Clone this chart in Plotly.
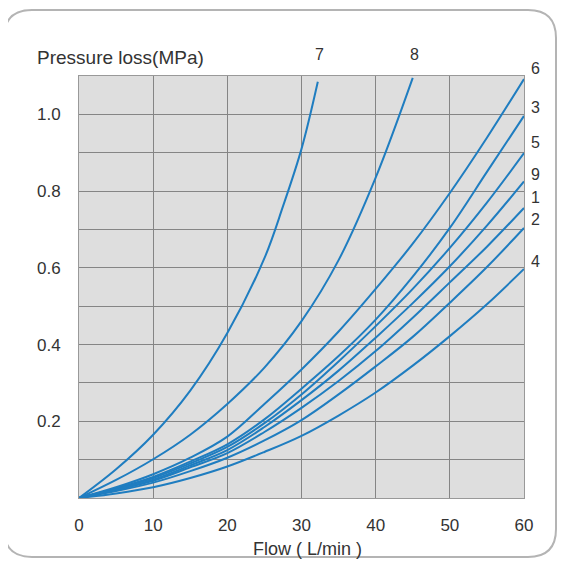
import plotly.graph_objects as go

# ---- data ----
flow = [0, 5, 10, 15, 20, 25, 30, 35, 40, 45, 50, 55, 60]
curve_1 = [0, 0.021, 0.045, 0.080, 0.117, 0.172, 0.235, 0.305, 0.383, 0.470, 0.562, 0.655, 0.756]
curve_2 = [0, 0.018, 0.040, 0.070, 0.105, 0.150, 0.203, 0.270, 0.343, 0.420, 0.509, 0.602, 0.704]
curve_3 = [0, 0.025, 0.055, 0.095, 0.140, 0.205, 0.285, 0.370, 0.465, 0.577, 0.704, 0.850, 0.996]
curve_4 = [0, 0.012, 0.028, 0.052, 0.082, 0.120, 0.162, 0.215, 0.275, 0.345, 0.422, 0.505, 0.597]
curve_5 = [0, 0.024, 0.052, 0.090, 0.133, 0.195, 0.270, 0.356, 0.448, 0.545, 0.652, 0.770, 0.899]
curve_6 = [0, 0.028, 0.062, 0.105, 0.160, 0.245, 0.335, 0.434, 0.545, 0.663, 0.795, 0.939, 1.092]
curve_9 = [0, 0.022, 0.048, 0.085, 0.125, 0.185, 0.255, 0.332, 0.418, 0.508, 0.604, 0.710, 0.825]

flow_7 = [0, 5, 10, 15, 20, 25, 27.5, 30, 32.2]
curve_7 = [0, 0.075, 0.165, 0.280, 0.430, 0.625, 0.760, 0.910, 1.085]

flow_8 = [0, 5, 10, 15, 20, 25, 30, 35, 40, 45]
curve_8 = [0, 0.047, 0.101, 0.165, 0.245, 0.340, 0.461, 0.620, 0.835, 1.095]

x_ticks = [0, 10, 20, 30, 40, 50, 60]
y_grid = [0, 0.1, 0.2, 0.3, 0.4, 0.5, 0.6, 0.7, 0.8, 0.9, 1.0, 1.1]
y_labels = ["", "", "0.2", "", "0.4", "", "0.6", "", "0.8", "", "1.0", ""]

series = [
    ("1", flow, curve_1), ("2", flow, curve_2), ("3", flow, curve_3),
    ("4", flow, curve_4), ("5", flow, curve_5), ("6", flow, curve_6),
    ("7", flow_7, curve_7), ("8", flow_8, curve_8), ("9", flow, curve_9),
]

X_MAX, Y_MAX = 60, 1.1

# ---- figure ----
# The page adds an 8px body margin, so the figure is drawn 8px smaller and
# all positions below are expressed in page pixels and shifted by OFF.
OFF = 8
W, H = 566 - OFF, 561 - OFF
L, R, T, B = 79 - OFF, 524 - OFF, 76 - OFF, 498 - OFF
BLUE = "#1f7dc0"
FONT = "Liberation Sans, Arial, sans-serif"

fig = go.Figure()
for name, xs, ys in series:
    fig.add_trace(go.Scatter(x=xs, y=ys, mode="lines", name=name,
                             line=dict(color=BLUE, width=2, shape="spline", smoothing=1.0),
                             hoverinfo="x+y+name"))

def px2paper(px, py):
    px -= OFF
    py -= OFF
    return (px - L) / (R - L), (B - py) / (B - T)

# rounded outer frame
x0, y0 = px2paper(4, 10)
x1, y1 = px2paper(556, 557)
rx = 28 / (R - L)
ry = 28 / (B - T)
path = (f"M {x0+rx},{y0} L {x1-rx},{y0} Q {x1},{y0} {x1},{y0-ry} "
        f"L {x1},{y1+ry} Q {x1},{y1} {x1-rx},{y1} "
        f"L {x0+rx},{y1} Q {x0},{y1} {x0},{y1+ry} "
        f"L {x0},{y0-ry} Q {x0},{y0} {x0+rx},{y0} Z")
fig.add_shape(type="path", path=path, xref="paper", yref="paper",
              line=dict(color="#b4b4b4", width=2), fillcolor="rgba(0,0,0,0)", layer="below")

annotations = []
label_font = dict(size=16, color="#333", family=FONT)
# labels above curves 7 and 8 (placed in paper space so they are not clipped)
for name, xs, ys in series:
    if name in ("7", "8"):
        annotations.append(dict(x=(xs[-1] + 0.2) / X_MAX, y=1.155 / Y_MAX,
                                xref="paper", yref="paper", text=name,
                                xanchor="center", yanchor="middle",
                                showarrow=False, font=label_font))
# labels at the right end
right_label_y = {"6": 1.12, "3": 1.017, "5": 0.926, "9": 0.843, "1": 0.783, "2": 0.726, "4": 0.616}
for name, yv in right_label_y.items():
    annotations.append(dict(x=61.6 / X_MAX, y=yv / Y_MAX, xref="paper", yref="paper",
                            text=name, xanchor="center", yanchor="middle",
                            showarrow=False, font=label_font))

tx, ty = px2paper(35, 57)
annotations.append(dict(x=tx, y=ty, xref="paper", yref="paper", text="Pressure loss(MPa)",
                        showarrow=False, xanchor="left", yanchor="middle",
                        font=dict(size=19, color="#333", family=FONT)))
fx, fy = px2paper(307, 549)
annotations.append(dict(x=fx, y=fy, xref="paper", yref="paper", text="Flow ( L/min )",
                        showarrow=False, xanchor="center", yanchor="middle",
                        font=dict(size=18, color="#333", family=FONT)))

fig.update_layout(
    width=W, height=H,
    margin=dict(l=L, r=W - R, t=T, b=H - B, pad=0),
    paper_bgcolor="white", plot_bgcolor="#dedede",
    showlegend=False,
    annotations=annotations,
    font=dict(family=FONT, color="#333"),
)
fig.update_xaxes(range=[0, X_MAX], tickvals=x_ticks, ticktext=[str(v) for v in x_ticks],
                 showgrid=True, gridcolor="#858585", gridwidth=1.2, zeroline=False,
                 showline=True, linecolor="#999", mirror=True, linewidth=1,
                 ticks="outside", ticklen=12, tickcolor="rgba(0,0,0,0)",
                 tickfont=dict(size=17, color="#333", family=FONT))
fig.update_yaxes(range=[0, Y_MAX], tickvals=y_grid, ticktext=y_labels,
                 showgrid=True, gridcolor="#858585", gridwidth=1.2, zeroline=False,
                 showline=True, linecolor="#999", mirror=True, linewidth=1,
                 ticks="outside", ticklen=14, tickcolor="rgba(0,0,0,0)",
                 tickfont=dict(size=17, color="#333", family=FONT))

fig.write_html("out.html")
